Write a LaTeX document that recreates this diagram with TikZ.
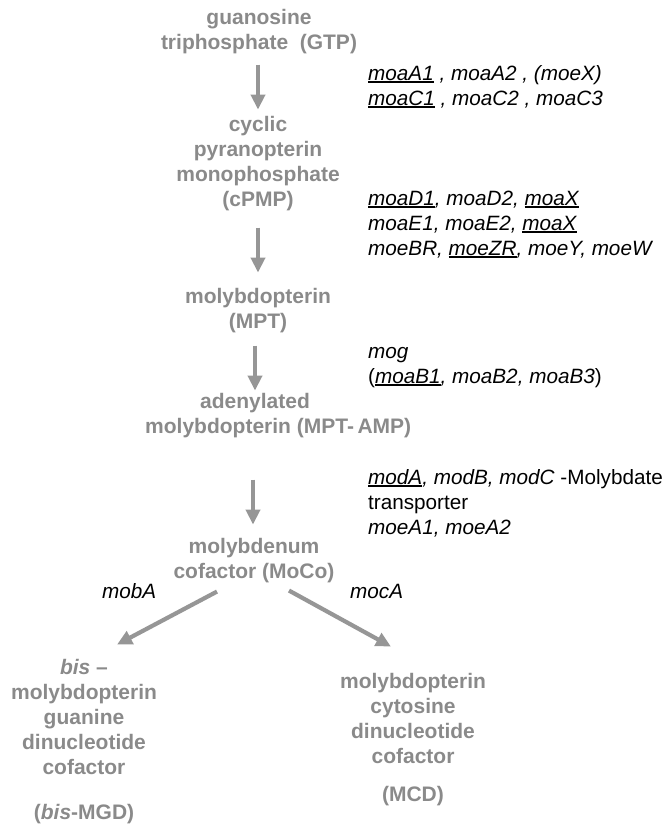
\documentclass[tikz,border=0pt]{standalone}
\usepackage{fontspec}
\setmainfont{Liberation Sans}
\usetikzlibrary{arrows.meta,calc}
\definecolor{chemgray}{RGB}{138,138,138}
\definecolor{arrowgray}{RGB}{150,150,150}
\newsavebox{\ugbox}
\newcommand{\ug}[1]{\sbox{\ugbox}{\textit{#1}}\rlap{\rule[-2.6pt]{\wd\ugbox}{1.2pt}}\usebox{\ugbox}}
\begin{document}
\begin{tikzpicture}[x=1pt,y=-1pt,
  chem/.style={font=\fontsize{21}{25}\selectfont\bfseries, text=chemgray, align=center, inner sep=0pt, anchor=base},
  gene/.style={font=\fontsize{20.7}{25}\selectfont, text=black, align=left, inner sep=0pt, anchor=base west},
  flow/.style={draw=arrowgray, line width=4.2pt, -{Triangle[width=14pt,length=15pt]}}]
\useasboundingbox (0,0) rectangle (669,825);
% compounds (anchor = baseline of last line)
\node[chem] (gtp) at (259,49) {guanosine\\triphosphate\ \ (GTP)};
\node[chem] (cpmp) at (258,206) {cyclic\\pyranopterin\\monophosphate\\(cPMP)};
\node[chem] (mpt) at (258,328) {molybdopterin\\(MPT)};
\node[chem, align=left, anchor=base west] (mptamp) at (145,433) {\hspace*{55pt}adenylated\\molybdopterin (MPT-\,AMP)};
\node[chem] (moco) at (254,578) {molybdenum\\cofactor (MoCo)};
\node[chem] (bis) at (84,819) {\textit{bis} --\\molybdopterin\\guanine\\dinucleotide\\cofactor\\[20pt](\textit{bis}-MGD)};
\node[chem] (mcd) at (413,801) {molybdopterin\\cytosine\\dinucleotide\\cofactor\\[13pt](MCD)};
% genes
\node[gene] (g1) at (368,105) {\ug{moaA1}\textit{ , moaA2 , (moeX)}\\\ug{moaC1}\textit{ , moaC2 , moaC3}};
\node[gene] (g2) at (368,255) {\ug{moaD1}\textit{, moaD2, }\ug{moaX}\\\textit{moaE1, moaE2, }\ug{moaX}\\\textit{moeBR, }\ug{moeZR}\textit{, moeY, moeW}};
\node[gene] (g3) at (368,383) {\textit{mog}\\(\ug{moaB1}\textit{, moaB2, moaB3})};
\node[gene] (g4) at (368,534) {\ug{modA}\textit{, modB, modC} -Molybdate\\transporter\\\textit{moeA1, moeA2}};
\node[gene] (mobA) at (102,598) {\textit{mobA}};
\node[gene] (mocA) at (350,598) {\textit{mocA}};
% arrows
\draw[flow] ($(gtp.south)+(-1,11)$) -- ($(cpmp.north)+(0,-6)$);
\draw[flow] ($(cpmp.south)+(0,17)$) -- ($(mpt.north)+(0,-15)$);
\draw[flow] ($(mpt.south)+(-3,13)$) -- ($(mpt.south |- mptamp.north)+(-3,-2)$);
\draw[flow] ($(moco.north |- mptamp.south)+(-1,42)$) -- ($(moco.north)+(-1,-13)$);
\draw[flow] ($(moco.south)+(-37,9)$) -- ($(bis.north)+(33,-14)$);
\draw[flow] ($(moco.south)+(35,8)$) -- ($(mcd.north)+(-22,-26)$);
\end{tikzpicture}
\end{document}
